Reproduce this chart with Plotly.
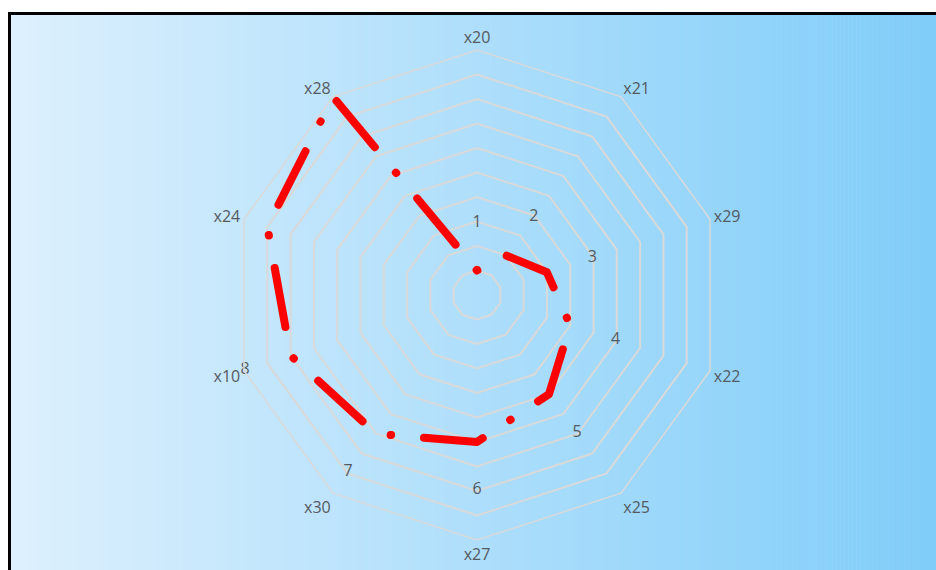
import plotly.graph_objects as go

# Radar categories, clockwise from the top
categories = ["x20", "x21", "x29", "x22", "x25", "x27", "x30", "x10", "x24", "x28"]
# Series values (one per category)
values = [1, 2, 3, 4, 5, 6, 7, 8, 9, 10]
# Radial scale
r_max = 10
r_step = 1

W, H = 936, 570
CX, CY, R = 477, 295, 245  # polar centre / radius in pixels
TEXT_COLOR = "#555a60"

fig = go.Figure()

# Series line, closed back to the first point
theta_loop = categories + categories[:1]
r_loop = values + values[:1]
fig.add_trace(go.Scatterpolar(
    r=r_loop, theta=theta_loop, mode="lines",
    line=dict(color="#ff0000", width=8, dash="0.5px,33px,60px,33px"),
    hoverinfo="skip", showlegend=False, cliponaxis=False,
))

# Value labels, set just outside each point
label_offset = 1.95
fig.add_trace(go.Scatterpolar(
    r=[v + label_offset for v in values], theta=categories, mode="text",
    text=[str(v) for v in values],
    textfont=dict(family="Open Sans", size=16, color=TEXT_COLOR),
    hoverinfo="skip", showlegend=False, cliponaxis=False,
))

# Horizontal gradient background built from thin strips
shapes = []
x_start = 10
left_rgb = (221, 240, 253)
right_rgb = (128, 205, 249)
n_strips = 232
strip_w = (W - x_start) / n_strips
for i in range(n_strips):
    t = i / (n_strips - 1)
    c = tuple(round(a + (b - a) * t) for a, b in zip(left_rgb, right_rgb))
    x0 = x_start + i * strip_w
    shapes.append(dict(
        type="rect", xref="paper", yref="paper", layer="below",
        x0=x0 / W, x1=(x0 + strip_w + 0.6) / W, y0=0, y1=1 - 14 / H,
        line=dict(width=0), fillcolor="rgb(%d,%d,%d)" % c,
    ))
# Chart frame (top and left edges visible)
shapes.append(dict(
    type="rect", xref="paper", yref="paper", layer="below",
    x0=9.5 / W, x1=1.05, y0=-0.05, y1=1 - 13.5 / H,
    line=dict(color="#000000", width=3), fillcolor="rgba(0,0,0,0)",
))

fig.update_layout(
    width=W, height=H,
    margin=dict(l=0, r=0, t=0, b=0),
    paper_bgcolor="#ffffff",
    showlegend=False,
    shapes=shapes,
    font=dict(family="Open Sans", color=TEXT_COLOR),
    polar=dict(
        domain=dict(x=[(CX - R) / W, (CX + R) / W],
                    y=[1 - (CY + R) / H, 1 - (CY - R) / H]),
        bgcolor="rgba(0,0,0,0)",
        gridshape="linear",
        radialaxis=dict(
            range=[0, r_max], tick0=0, dtick=r_step,
            showticklabels=False, ticks="", showline=False,
            gridcolor="#d9d9d9", gridwidth=1.5,
        ),
        angularaxis=dict(
            type="category", categoryorder="array", categoryarray=categories,
            direction="clockwise", rotation=90,
            showgrid=False, showline=True, linecolor="#d9d9d9", linewidth=1.5,
            ticks="", tickfont=dict(family="Open Sans", size=16, color=TEXT_COLOR),
        ),
    ),
)

round_caps = (
    "document.querySelectorAll('.js-line').forEach(function(p){"
    "p.style.strokeLinecap='round';p.style.strokeLinejoin='round';});"
)
fig.write_html("out.html", post_script=round_caps)
